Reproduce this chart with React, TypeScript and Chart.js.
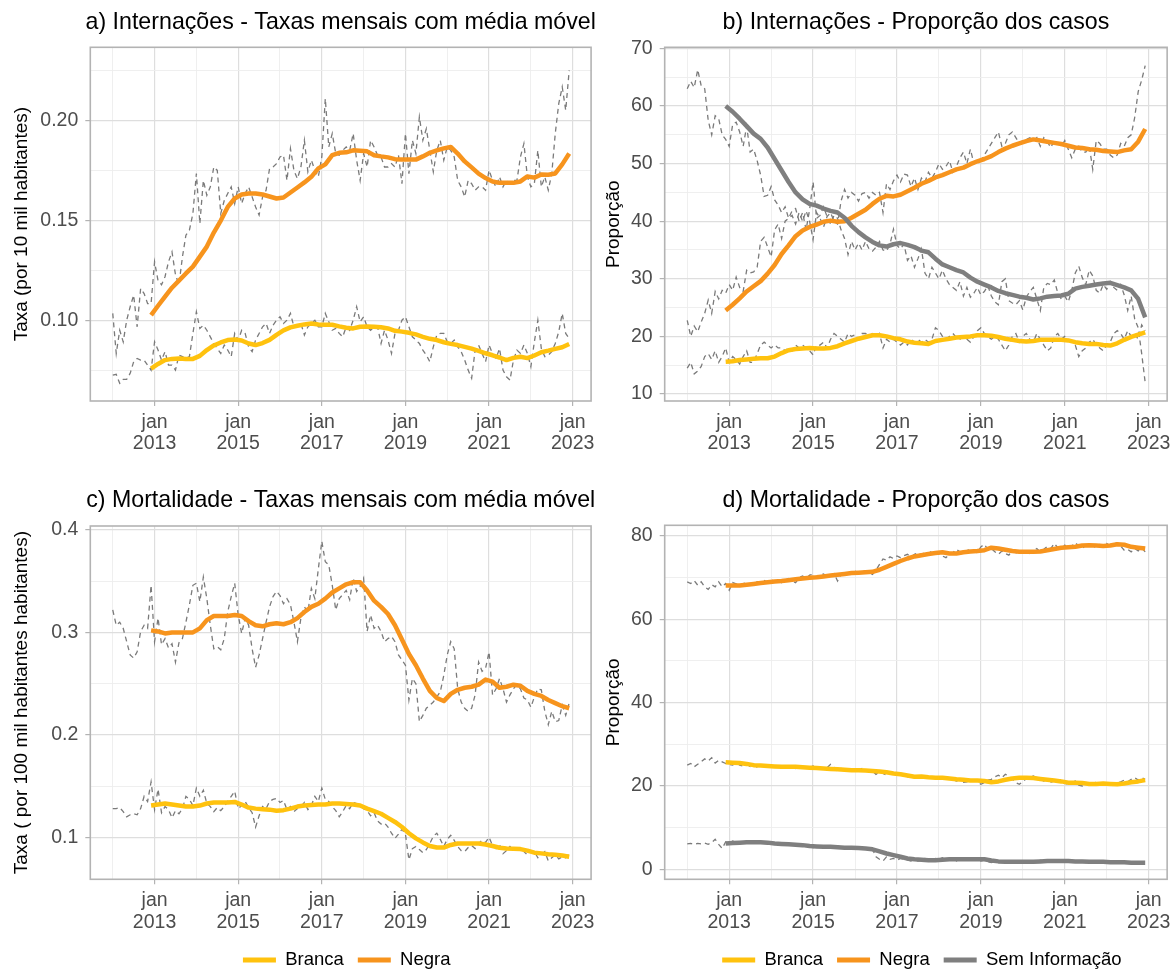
import React, { useEffect, useRef } from "react";
import { Chart, registerables } from "chart.js";

Chart.register(...registerables);

const FONT_FAMILY = "'Liberation Sans', Arial, Helvetica, sans-serif";
Chart.defaults.font.family = FONT_FAMILY;

// ---------------- categories ----------------
const rawYears = [2012, 2013, 2014, 2015, 2016, 2017, 2018, 2019, 2020, 2021, 2022];
const monthNumbers = [1, 2, 3, 4, 5, 6, 7, 8, 9, 10, 11, 12];
const maMonthNumbers = [2, 4, 6, 8, 10, 12];
const pad2 = (m: number) => String(m).padStart(2, "0");
// monthly values: Jan 2012 .. Dec 2022
const rawMonths = rawYears.flatMap((y) => monthNumbers.map((m) => `${y}-${pad2(m)}`));
// 12-month moving average, read every second month: Dec 2012, Feb 2013 .. Dec 2022
const maMonths = ["2012-12", ...rawYears.slice(1).flatMap((y) => maMonthNumbers.map((m) => `${y}-${pad2(m)}`))];

// ---------------- x tick labels ----------------
const yearBreaks = [2013, 2015, 2017, 2019, 2021, 2023];
const yearMinorBreaks = [2012, 2014, 2016, 2018, 2020, 2022];
const tickMonthLabel = "jan";

// ---------------- a) Internações - taxas ----------------
const intBrancaRaw = [
  0.0729, 0.0733, 0.0688, 0.0708, 0.0708, 0.0738, 0.0796, 0.0812, 0.0804, 0.0804, 0.0779, 0.0754,
  0.0895, 0.0854, 0.0804, 0.0846, 0.0779, 0.0779, 0.0754, 0.0829, 0.0821, 0.0812, 0.0821, 0.0937,
  0.1045, 0.0962, 0.0978, 0.0953, 0.0920, 0.0887, 0.0862, 0.0837, 0.0879, 0.0854, 0.0821, 0.0937,
  0.0904, 0.0953, 0.0937, 0.0870, 0.0846, 0.0904, 0.0937, 0.0970, 0.0987, 0.0937, 0.0978, 0.1003,
  0.1020, 0.0987, 0.1003, 0.1037, 0.0970, 0.0970, 0.0987, 0.0929, 0.0970, 0.0987, 0.1003, 0.0970,
  0.0970, 0.1037, 0.0995, 0.0953, 0.0962, 0.0937, 0.0920, 0.0970, 0.0953, 0.1003, 0.1070, 0.0995,
  0.1020, 0.0970, 0.0953, 0.0970, 0.0970, 0.0887, 0.0953, 0.0904, 0.0837, 0.0937, 0.0953, 0.1003,
  0.1020, 0.0970, 0.0920, 0.0904, 0.0887, 0.0854, 0.0829, 0.0796, 0.0870, 0.0929, 0.0937, 0.0937,
  0.0895, 0.0887, 0.0904, 0.0870, 0.0846, 0.0804, 0.0754, 0.0713, 0.0854, 0.0879, 0.0837, 0.0796,
  0.0879, 0.0837, 0.0812, 0.0862, 0.0754, 0.0721, 0.0704, 0.0804, 0.0854, 0.0837, 0.0879, 0.0837,
  0.0771, 0.0895, 0.1003, 0.0862, 0.0821, 0.0829, 0.0846, 0.0887, 0.0945, 0.1037, 0.0937, 0.0912,
];
const intNegraRaw = [
  0.1037, 0.0837, 0.0953, 0.0895, 0.1003, 0.1070, 0.1128, 0.0970, 0.1161, 0.1136, 0.1086, 0.1086,
  0.1294, 0.1200, 0.1180, 0.1220, 0.1294, 0.1344, 0.1230, 0.1180, 0.1319, 0.1427, 0.1452, 0.1535,
  0.1734, 0.1485, 0.1700, 0.1626, 0.1668, 0.1767, 0.1750, 0.1535, 0.1600, 0.1635, 0.1668, 0.1585,
  0.1668, 0.1585, 0.1635, 0.1668, 0.1618, 0.1568, 0.1527, 0.1618, 0.1651, 0.1759, 0.1767, 0.1784,
  0.1817, 0.1826, 0.1700, 0.1859, 0.1750, 0.1709, 0.1767, 0.1900, 0.1743, 0.1801, 0.1751, 0.1718,
  0.1817, 0.2108, 0.1867, 0.1934, 0.1834, 0.1826, 0.1850, 0.1867, 0.1850, 0.1934, 0.1801, 0.1700,
  0.1834, 0.1767, 0.1900, 0.1867, 0.1826, 0.1817, 0.1767, 0.1767, 0.1784, 0.1767, 0.1826, 0.1684,
  0.1934, 0.1734, 0.1900, 0.1834, 0.2017, 0.1900, 0.1958, 0.1850, 0.1743, 0.1850, 0.1900, 0.1801,
  0.1867, 0.1850, 0.1817, 0.1700, 0.1668, 0.1618, 0.1700, 0.1684, 0.1651, 0.1668, 0.1668, 0.1651,
  0.1751, 0.1700, 0.1668, 0.1718, 0.1668, 0.1700, 0.1684, 0.1700, 0.1700, 0.1817, 0.1884, 0.1718,
  0.1668, 0.1684, 0.1850, 0.1668, 0.1718, 0.1651, 0.1734, 0.1934, 0.2083, 0.2166, 0.2050, 0.2249,
];
const intBrancaMA = [
  0.0762,
  0.0785, 0.0804, 0.0810, 0.0812, 0.0809, 0.0810,
  0.0825, 0.0854, 0.0877, 0.0892, 0.0904, 0.0907,
  0.0902, 0.0887, 0.0879, 0.0889, 0.0905, 0.0930,
  0.0952, 0.0967, 0.0975, 0.0982, 0.0987, 0.0982,
  0.0980, 0.0980, 0.0972, 0.0965, 0.0962, 0.0970,
  0.0972, 0.0970, 0.0968, 0.0962, 0.0950, 0.0946,
  0.0940, 0.0932, 0.0920, 0.0910, 0.0904, 0.0893,
  0.0885, 0.0879, 0.0870, 0.0861, 0.0850, 0.0838,
  0.0828, 0.0817, 0.0804, 0.0815, 0.0821, 0.0814,
  0.0827, 0.0843, 0.0851, 0.0860, 0.0868, 0.0884,
];
const intNegraMA = [
  0.1028,
  0.1075, 0.1120, 0.1165, 0.1200, 0.1236, 0.1270,
  0.1320, 0.1370, 0.1440, 0.1500, 0.1568, 0.1610,
  0.1630, 0.1635, 0.1635, 0.1630, 0.1620, 0.1610,
  0.1615, 0.1640, 0.1665, 0.1690, 0.1718, 0.1760,
  0.1780, 0.1826, 0.1838, 0.1840, 0.1850, 0.1848,
  0.1845, 0.1826, 0.1820, 0.1815, 0.1806, 0.1804,
  0.1804, 0.1804, 0.1820, 0.1838, 0.1850, 0.1860,
  0.1867, 0.1834, 0.1795, 0.1765, 0.1734, 0.1712,
  0.1695, 0.1688, 0.1688, 0.1688, 0.1695, 0.1720,
  0.1714, 0.1730, 0.1728, 0.1735, 0.1780, 0.1834,
];

// ---------------- b) Internações - proporção ----------------
const propIntBrancaRaw = [
  14.5, 15.5, 13.5, 14.0, 14.8, 16.5, 17.0, 16.0, 17.5, 15.5, 16.5, 18.0,
  15.5, 16.5, 16.0, 15.2, 16.5, 17.5, 15.5, 15.5, 17.0, 18.5, 19.0, 18.5,
  18.0, 18.5, 18.0, 18.0, 17.5, 18.0, 17.5, 18.5, 18.0, 18.5, 18.0, 17.5,
  16.8, 18.5, 18.5, 19.0, 18.0, 19.5, 20.5, 20.0, 19.5, 19.0, 20.5, 20.0,
  20.3, 19.5, 20.5, 20.5, 20.0, 20.5, 20.0, 20.5, 18.0, 19.5, 19.0, 19.5,
  19.0, 18.5, 19.0, 18.5, 19.5, 19.0, 19.5, 19.0, 19.5, 19.0, 19.5, 21.5,
  21.0, 20.0, 19.5, 20.0, 20.5, 19.8, 19.5, 20.0, 19.5, 19.0, 20.0, 21.0,
  21.5, 20.5, 20.0, 19.5, 20.0, 19.5, 18.5, 17.5, 18.5, 20.0, 20.5, 19.0,
  20.0, 20.5, 19.5, 19.0, 20.5, 19.5, 18.5, 17.5, 18.0, 20.0, 20.5, 19.5,
  20.0, 19.5, 19.0, 18.5, 16.5, 17.5, 18.0, 19.0, 19.5, 18.5, 18.0, 17.5,
  18.5, 19.0, 20.5, 21.0, 20.5, 19.5, 21.0, 20.0, 20.5, 19.5, 22.0, 21.0,
];
const propIntNegraRaw = [
  22.8, 20.0, 21.8, 20.8, 22.5, 24.0, 26.3, 24.0, 27.8, 26.5, 28.0, 27.5,
  29.0, 28.0, 30.3, 28.5, 27.8, 31.5, 31.0, 31.2, 32.0, 36.5, 37.2, 35.5,
  33.8, 38.5, 39.5, 37.0, 40.0, 40.5, 41.0, 39.5, 41.5, 40.0, 41.8, 40.0,
  36.8, 41.5, 40.5, 39.0, 40.8, 41.5, 40.0, 39.5, 43.5, 45.5, 44.0, 45.0,
  44.5, 43.5, 44.8, 45.0, 44.0, 45.0, 44.5, 45.0, 41.5, 46.5, 45.5, 47.0,
  48.0, 46.8, 48.2, 48.0, 46.0, 47.5, 45.5, 47.5, 46.8, 48.5, 47.5, 48.5,
  50.0, 49.0, 49.5, 50.5, 48.5, 49.5, 51.0, 52.0, 50.0, 52.5, 50.0, 50.5,
  50.5, 51.5, 52.5, 53.5, 54.5, 55.5, 53.0, 53.5, 55.0, 55.5, 54.5, 53.5,
  54.0, 54.2, 54.5, 54.0, 54.5, 53.0, 54.5, 53.8, 52.8, 54.0, 53.5, 53.0,
  54.0, 52.5, 51.0, 52.5, 53.0, 52.0, 52.0, 53.0, 49.0, 54.0, 53.5, 52.5,
  52.5, 51.5, 51.0, 51.5, 53.5, 53.0, 54.5, 55.0, 58.0, 62.5, 64.5, 67.0,
];
const propIntSemRaw = [
  63.0, 64.3, 63.2, 66.3, 63.5, 63.0, 57.5, 55.0, 58.3, 57.8, 55.0, 54.2,
  53.0, 56.8, 57.2, 55.5, 53.0, 56.5, 52.0, 52.5, 50.5, 48.0, 44.3, 44.5,
  46.0, 43.7, 42.8, 41.5, 42.5, 40.5, 41.8, 42.2, 40.0, 41.5, 38.5, 42.0,
  46.8, 40.5, 41.0, 42.5, 40.8, 39.5, 41.0, 40.5, 38.5, 37.0, 34.2, 36.5,
  35.0, 36.2, 35.0, 36.5, 35.2, 34.8, 35.5, 36.5, 35.0, 34.8, 36.0, 38.6,
  35.8, 35.2, 36.0, 33.2, 34.0, 32.0, 33.5, 35.2, 31.0, 30.0, 32.0, 31.0,
  30.0, 31.5, 30.0, 29.0, 28.5, 28.0, 29.5, 27.0, 28.5, 26.8, 27.5, 28.5,
  27.2, 27.8, 28.8, 27.0, 26.0, 25.5, 29.5, 30.0, 26.2, 25.8, 25.5, 26.2,
  24.6, 26.8, 27.8, 28.5, 26.5, 24.5, 28.5, 29.2, 29.0, 29.8, 27.5, 26.5,
  27.0, 26.0, 28.0, 31.0, 32.2, 30.2, 29.0, 31.5, 30.5, 28.0, 27.5, 29.0,
  28.2, 29.5, 28.5, 28.0, 29.0, 27.2, 24.5, 27.0, 23.0, 21.5, 17.0, 12.0,
];
const propIntBrancaMA = [
  15.6,
  15.7, 15.9, 16.0, 16.1, 16.2, 16.2,
  16.5, 17.1, 17.6, 17.8, 17.9, 18.0,
  17.9, 17.9, 18.0, 18.3, 18.8, 19.2,
  19.6, 19.9, 20.2, 20.2, 20.0, 19.7,
  19.5, 19.1, 18.9, 18.8, 18.7, 19.2,
  19.4, 19.6, 19.8, 19.9, 20.0, 20.2,
  20.2, 20.1, 19.9, 19.6, 19.4, 19.2,
  19.1, 19.2, 19.4, 19.4, 19.4, 19.4,
  19.3, 19.0, 18.8, 18.7, 18.7, 18.5,
  18.4, 18.8, 19.4, 19.9, 20.3, 20.7,
];
const propIntNegraMA = [
  24.5,
  25.5, 26.6, 27.8, 28.7, 29.6, 30.9,
  32.4, 34.3, 35.8, 37.4, 38.4, 39.0,
  39.4, 39.9, 40.1, 39.9, 40.0, 40.6,
  41.3, 42.0, 43.0, 43.9, 44.4, 44.3,
  44.6, 45.2, 45.8, 46.5, 47.0, 47.6,
  48.0, 48.5, 49.0, 49.3, 49.9, 50.4,
  50.8, 51.3, 52.0, 52.6, 53.1, 53.5,
  53.9, 54.2, 54.0, 53.8, 53.6, 53.4,
  53.1, 52.8, 52.7, 52.5, 52.4, 52.2,
  52.1, 52.0, 52.3, 52.5, 53.8, 56.0,
];
const propIntSemMA = [
  60.0,
  59.0, 57.8, 56.5, 55.2, 54.3, 52.8,
  50.8, 48.8, 46.8, 45.0, 43.8, 43.0,
  42.7, 42.2, 41.8, 41.5, 40.6, 39.2,
  38.1, 37.2, 36.4, 35.8, 35.6, 36.0,
  36.2, 35.9, 35.5, 34.9, 34.6, 33.5,
  32.5, 32.0, 31.5, 31.1, 30.2, 29.5,
  29.0, 28.5, 27.9, 27.5, 27.2, 26.9,
  26.7, 26.4, 26.6, 26.9, 27.0, 27.1,
  27.4, 28.3, 28.6, 28.8, 29.0, 29.2,
  29.3, 28.9, 28.5, 28.0, 26.5, 23.3,
];

// ---------------- c) Mortalidade - taxas ----------------
const mortBrancaRaw = [
  0.128, 0.128, 0.129, 0.125, 0.120, 0.122, 0.123, 0.122, 0.128, 0.140, 0.135, 0.154,
  0.127, 0.147, 0.124, 0.130, 0.127, 0.119, 0.126, 0.123, 0.128, 0.140, 0.137, 0.131,
  0.148, 0.140, 0.146, 0.133, 0.130, 0.125, 0.129, 0.126, 0.130, 0.135, 0.140, 0.145,
  0.128, 0.131, 0.135, 0.129, 0.124, 0.110, 0.121, 0.130, 0.128, 0.135, 0.137, 0.138,
  0.134, 0.136, 0.127, 0.130, 0.125, 0.128, 0.130, 0.134, 0.127, 0.131, 0.140, 0.135,
  0.148, 0.137, 0.135, 0.130, 0.126, 0.120, 0.125, 0.131, 0.128, 0.134, 0.133, 0.131,
  0.128, 0.126, 0.121, 0.124, 0.116, 0.113, 0.114, 0.110, 0.104, 0.099, 0.103, 0.108,
  0.103, 0.078, 0.089, 0.091, 0.088, 0.085, 0.088, 0.094, 0.101, 0.104, 0.098, 0.091,
  0.098, 0.102, 0.097, 0.091, 0.087, 0.086, 0.090, 0.092, 0.089, 0.094, 0.097, 0.095,
  0.100, 0.092, 0.089, 0.093, 0.084, 0.087, 0.091, 0.087, 0.089, 0.090, 0.086, 0.083,
  0.087, 0.086, 0.080, 0.083, 0.086, 0.077, 0.080, 0.083, 0.079, 0.081, 0.080, 0.084,
];
const mortNegraRaw = [
  0.322, 0.307, 0.310, 0.304, 0.291, 0.278, 0.275, 0.281, 0.301, 0.307, 0.304, 0.346,
  0.291, 0.314, 0.288, 0.294, 0.285, 0.289, 0.271, 0.290, 0.294, 0.310, 0.327, 0.346,
  0.348, 0.330, 0.354, 0.333, 0.307, 0.284, 0.286, 0.283, 0.294, 0.320, 0.335, 0.348,
  0.317, 0.299, 0.314, 0.307, 0.284, 0.266, 0.278, 0.294, 0.310, 0.325, 0.335, 0.340,
  0.336, 0.328, 0.333, 0.327, 0.310, 0.291, 0.314, 0.325, 0.320, 0.343, 0.333, 0.362,
  0.389, 0.369, 0.366, 0.346, 0.322, 0.333, 0.337, 0.341, 0.332, 0.353, 0.340, 0.345,
  0.353, 0.301, 0.317, 0.304, 0.307, 0.301, 0.291, 0.294, 0.296, 0.291, 0.278, 0.273,
  0.268, 0.234, 0.255, 0.250, 0.213, 0.219, 0.226, 0.229, 0.232, 0.237, 0.242, 0.258,
  0.278, 0.291, 0.284, 0.245, 0.232, 0.226, 0.223, 0.226, 0.239, 0.271, 0.262, 0.265,
  0.281, 0.239, 0.245, 0.255, 0.245, 0.232, 0.239, 0.245, 0.249, 0.245, 0.236, 0.234,
  0.227, 0.237, 0.245, 0.244, 0.223, 0.210, 0.223, 0.213, 0.214, 0.229, 0.219, 0.231,
];
const mortBrancaMA = [
  0.131,
  0.132, 0.133, 0.132, 0.131, 0.130, 0.130,
  0.131, 0.133, 0.134, 0.134, 0.134, 0.1345,
  0.132, 0.129, 0.128, 0.1275, 0.127, 0.126,
  0.1265, 0.128, 0.130, 0.131, 0.1315, 0.132,
  0.132, 0.133, 0.133, 0.1325, 0.132, 0.131,
  0.128, 0.1255, 0.123, 0.119, 0.115, 0.110,
  0.104, 0.099, 0.095, 0.0915, 0.090, 0.090,
  0.0925, 0.094, 0.094, 0.094, 0.094, 0.093,
  0.0915, 0.0898, 0.089, 0.0888, 0.0885, 0.087,
  0.085, 0.0843, 0.0835, 0.083, 0.0822, 0.081,
];
const mortNegraMA = [
  0.302,
  0.301, 0.299, 0.300, 0.300, 0.300, 0.300,
  0.304, 0.312, 0.316, 0.316, 0.316, 0.317,
  0.316, 0.311, 0.307, 0.306, 0.308, 0.309,
  0.308, 0.310, 0.314, 0.320, 0.325, 0.328,
  0.333, 0.339, 0.343, 0.347, 0.349, 0.349,
  0.341, 0.331, 0.325, 0.318, 0.307, 0.293,
  0.279, 0.268, 0.255, 0.243, 0.236, 0.233,
  0.240, 0.244, 0.246, 0.247, 0.249, 0.254,
  0.252, 0.246, 0.247, 0.249, 0.248, 0.243,
  0.240, 0.238, 0.234, 0.231, 0.228, 0.226,
];

// ---------------- d) Mortalidade - proporção ----------------
const propMortBrancaRaw = [
  25.0, 25.4, 24.6, 25.2, 25.8, 26.5, 26.0, 26.8, 25.5, 26.2, 25.8, 25.4,
  25.2, 25.0, 25.6, 25.0, 24.8, 25.2, 24.7, 25.3, 24.5, 24.8, 25.0, 24.6,
  24.8, 24.4, 24.7, 24.9, 24.5, 24.3, 24.8, 24.2, 24.6, 24.7, 24.3, 24.5,
  24.8, 24.2, 24.3, 24.0, 24.4, 25.2, 24.5, 23.6, 24.2, 24.0, 23.8, 23.5,
  24.0, 23.8, 24.2, 23.8, 23.4, 23.6, 22.8, 23.4, 23.0, 22.6, 23.2, 23.0,
  22.6, 23.0, 22.8, 22.2, 22.4, 22.2, 22.0, 22.3, 21.9, 22.0, 22.2, 21.8,
  22.0, 21.6, 22.2, 21.9, 21.4, 21.2, 21.5, 20.9, 21.0, 21.5, 21.3, 21.0,
  20.4, 20.8, 21.4, 21.6, 22.2, 22.6, 22.0, 22.8, 22.4, 21.6, 20.8, 20.4,
  21.0, 21.8, 22.0, 22.4, 22.0, 21.6, 21.2, 21.6, 21.0, 20.8, 21.2, 21.6,
  20.6, 20.4, 20.8, 21.2, 20.2, 20.0, 20.4, 20.6, 21.0, 20.8, 20.2, 20.6,
  20.4, 20.0, 20.6, 20.8, 21.0, 21.4, 21.0, 21.6, 22.0, 21.4, 22.0, 21.6,
];
const propMortNegraRaw = [
  69.0, 68.6, 69.3, 68.2, 69.0, 67.8, 67.2, 68.3, 67.8, 69.0, 67.8, 68.6,
  67.0, 68.8, 68.5, 68.0, 68.6, 68.8, 68.4, 68.2, 69.0, 68.7, 69.3, 68.9,
  69.5, 69.0, 69.6, 68.8, 69.4, 69.8, 69.2, 68.8, 70.0, 70.4, 69.8, 70.6,
  70.8, 70.0, 70.5, 70.9, 70.2, 70.6, 71.0, 69.2, 70.8, 71.2, 70.8, 71.4,
  71.6, 71.0, 71.4, 71.6, 71.2, 70.8, 71.8, 73.2, 74.5, 74.2, 75.0, 74.6,
  75.2, 74.8, 75.3, 75.6, 75.0, 75.6, 76.0, 75.5, 76.2, 75.8, 76.4, 76.0,
  75.6, 75.2, 74.8, 75.6, 76.0, 76.8, 76.2, 75.8, 76.5, 76.8, 76.2, 76.0,
  77.4, 78.0, 76.8, 77.0, 76.2, 75.6, 76.4, 75.8, 75.4, 76.5, 76.0, 75.8,
  76.2, 76.5, 75.8, 76.4, 77.0, 76.2, 76.8, 77.5, 77.0, 78.2, 77.2, 76.8,
  77.8, 77.2, 77.6, 78.4, 77.6, 77.0, 77.8, 78.0, 77.6, 77.2, 78.0, 77.8,
  78.2, 77.6, 78.0, 78.4, 77.6, 76.6, 76.8, 76.2, 77.0, 76.4, 77.2, 76.2,
];
const propMortSemRaw = [
  6.1, 6.2, 6.0, 6.2, 6.1, 6.3, 6.0, 6.4, 7.2, 6.0, 5.0, 6.6,
  6.2, 6.8, 6.4, 6.6, 6.2, 6.8, 6.5, 6.3, 6.8, 6.6, 6.4, 6.7,
  6.2, 6.0, 6.4, 6.2, 5.8, 6.2, 6.0, 5.6, 6.0, 5.8, 5.7, 5.9,
  5.2, 5.8, 5.6, 5.4, 5.6, 5.2, 5.0, 5.6, 5.4, 5.2, 5.4, 5.3,
  5.0, 5.2, 5.1, 4.9, 5.2, 4.8, 3.0, 2.4, 2.0, 3.0, 2.4, 2.6,
  2.2, 2.6, 2.4, 2.2, 2.0, 2.4, 2.0, 2.2, 2.6, 2.4, 2.0, 2.6,
  2.4, 2.8, 2.2, 2.6, 2.4, 2.0, 2.6, 2.3, 2.2, 2.8, 2.4, 2.6,
  2.0, 2.2, 1.8, 1.6, 1.9, 1.7, 2.0, 1.8, 1.6, 2.0, 1.8, 1.7,
  1.8, 1.6, 2.0, 1.9, 1.7, 2.2, 2.0, 2.1, 1.9, 2.1, 2.0, 1.8,
  2.0, 1.8, 1.9, 1.7, 1.9, 1.8, 1.6, 1.8, 1.9, 1.7, 1.8, 1.6,
  1.8, 1.6, 1.7, 1.5, 1.6, 1.7, 1.5, 1.6, 1.5, 1.7, 1.6, 1.5,
];
const propMortBrancaMA = [
  25.7,
  25.6, 25.5, 25.3, 25.0, 24.9, 24.8,
  24.7, 24.6, 24.6, 24.6, 24.5, 24.4,
  24.3, 24.2, 24.1, 24.0, 23.9, 23.8,
  23.8, 23.7, 23.6, 23.5, 23.3, 23.0,
  22.8, 22.5, 22.2, 22.3, 22.1, 22.0,
  22.0, 21.8, 21.6, 21.5, 21.3, 21.3,
  21.2, 20.9, 21.1, 21.5, 21.8, 22.0,
  22.0, 21.9, 21.7, 21.5, 21.3, 21.1,
  20.8, 20.8, 20.7, 20.5, 20.5, 20.6,
  20.5, 20.4, 20.6, 20.9, 21.1, 21.4,
];
const propMortNegraMA = [
  68.1,
  68.1, 68.1, 68.3, 68.5, 68.7, 68.9,
  69.1, 69.2, 69.4, 69.6, 69.8, 70.0,
  70.1, 70.3, 70.5, 70.7, 70.9, 71.1,
  71.2, 71.3, 71.4, 71.9, 72.6, 73.3,
  74.0, 74.6, 75.1, 75.4, 75.7, 75.9,
  76.1, 75.8, 75.8, 76.1, 76.3, 76.4,
  76.6, 77.2, 77.0, 76.7, 76.4, 76.2,
  76.2, 76.2, 76.3, 76.6, 76.9, 77.2,
  77.3, 77.4, 77.7, 77.8, 77.7, 77.6,
  77.7, 78.0, 77.9, 77.4, 77.2, 77.0,
];
const propMortSemMA = [
  6.2,
  6.3, 6.4, 6.5, 6.5, 6.5, 6.4,
  6.2, 6.1, 6.0, 5.9, 5.8, 5.6,
  5.5, 5.4, 5.4, 5.3, 5.2, 5.2,
  5.1, 5.0, 4.8, 4.3, 3.8, 3.4,
  3.0, 2.6, 2.4, 2.3, 2.2, 2.2,
  2.3, 2.4, 2.4, 2.4, 2.4, 2.4,
  2.4, 2.1, 1.9, 1.8, 1.8, 1.8,
  1.8, 1.8, 1.9, 2.0, 2.0, 2.0,
  2.0, 1.9, 1.9, 1.8, 1.8, 1.8,
  1.7, 1.7, 1.7, 1.6, 1.6, 1.6,
];

// ---------------- styles ----------------
const COLOR_BRANCA = "#FFC20E";
const COLOR_NEGRA = "#F7941D";
const COLOR_SEM = "#7F7F7F";
const COLOR_RAW = "#7A7A7A";
const GRID_MAJOR = "#DEDEDE";
const GRID_MINOR = "#EDEDED";
const BORDER = "#B3B3B3";
const TICK_TEXT = "#4D4D4D";

const monthToYear = (s: string) => {
  const [y, m] = s.split("-").map(Number);
  return y + (m - 1) / 12;
};

type Series = { label: string; color: string; raw: number[]; ma: number[] };
type PanelSpec = {
  key: string;
  title: string;
  yTitle: string;
  yMin: number;
  yMax: number;
  yMajor: number[];
  yMinor: number[];
  yDigits: number;
  series: Series[];
  legend: boolean;
  legendCenter: number;
  yTitleX: number;
  box: { left: number; top: number; width: number; height: number };
  area: { left: number; right: number; top: number; bottom: number };
};

const panelBorder = {
  id: "panelBorder",
  afterDraw(chart: any) {
    const { ctx, chartArea } = chart;
    const { left, top, right, bottom } = chartArea;
    ctx.save();
    ctx.strokeStyle = BORDER;
    ctx.lineWidth = 1.6;
    ctx.strokeRect(left, top, right - left, bottom - top);
    ctx.restore();
  },
};

const adjustBoxes = {
  id: "adjustBoxes",
  afterLayout(chart: any) {
    const t = chart.titleBlock;
    if (t) {
      t.left -= 40;
      t.right += 40;
      t.width = t.right - t.left;
    }
    const l = chart.legend;
    if (l && l.options && l.options.display) {
      l.left += 6;
      l.right += 6;
    }
  },
};

function makeConfig(p: PanelSpec) {
  const TITLE_SIZE = 23.2;
  const TITLE_LH = 1.2;
  const titleH = TITLE_SIZE * TITLE_LH;
  const titlePadTop = p.area.top - 25 - titleH / 2;
  const titlePadBottom = p.area.top - titleH - titlePadTop;
  const LEG_FONT = 18.5;
  const LEG_PAD = 14;
  const legendH = LEG_FONT + LEG_PAD + 10;
  const xAxisH = p.legend ? p.legendCenter - LEG_PAD - LEG_FONT / 2 - p.area.bottom : p.box.height - p.area.bottom;
  const padBottom = p.legend ? p.box.height - p.area.bottom - xAxisH - legendH : 0;
  const Y_TITLE_SIZE = 19;
  const yTicks = [...p.yMajor, ...p.yMinor].sort((a, b) => a - b);
  const xTicks = [...yearBreaks, ...yearMinorBreaks].sort((a, b) => a - b);
  const n = p.series.length;

  const datasets = [
    ...p.series.map((s, j) => ({
      label: s.label,
      data: maMonths.map((m, k) => ({ x: monthToYear(m), y: s.ma[k] })),
      borderColor: s.color,
      backgroundColor: s.color,
      borderWidth: 4.5,
      pointRadius: 0,
      tension: 0,
      fill: false,
      borderJoinStyle: "round",
      borderCapStyle: "butt",
      order: n - 1 - j,
    })),
    ...p.series.map((s, j) => ({
      label: s.label + " (mensal)",
      data: rawMonths.map((m, k) => ({ x: monthToYear(m), y: s.raw[k] })),
      borderColor: COLOR_RAW,
      backgroundColor: COLOR_RAW,
      borderWidth: 1.3,
      borderDash: [5, 4],
      pointRadius: 0,
      tension: 0,
      fill: false,
      order: 10 + n - 1 - j,
    })),
  ];

  return {
    type: "line",
    data: { datasets },
    plugins: [panelBorder, adjustBoxes],
    options: {
      responsive: false,
      animation: false,
      devicePixelRatio: 1,
      events: [],
      parsing: false,
      normalized: true,
      layout: {
        padding: { left: 0, top: 0, right: p.box.width - p.area.right, bottom: padBottom },
      },
      scales: {
        x: {
          type: "linear",
          min: 2011.463,
          max: 2023.44,
          bounds: "data",
          afterBuildTicks: (scale: any) => {
            scale.ticks = xTicks.map((v) => ({ value: v }));
          },
          afterFit: (scale: any) => {
            scale.height = xAxisH;
          },
          border: { display: false },
          grid: {
            color: (c: any) => (yearBreaks.includes(c.tick && c.tick.value) ? GRID_MAJOR : GRID_MINOR),
            lineWidth: (c: any) => (yearBreaks.includes(c.tick && c.tick.value) ? 1.2 : 0.9),
            tickColor: (c: any) => (yearBreaks.includes(c.tick && c.tick.value) ? BORDER : "rgba(0,0,0,0)"),
            tickWidth: 1.2,
            tickLength: 5,
            drawTicks: true,
          },
          ticks: {
            autoSkip: false,
            maxRotation: 0,
            minRotation: 0,
            padding: 5.3,
            color: TICK_TEXT,
            font: { size: 19.5, lineHeight: 1.113 },
            callback: (v: number) => (yearBreaks.includes(v) ? [tickMonthLabel, String(v)] : ""),
          },
        },
        y: {
          type: "linear",
          min: p.yMin,
          max: p.yMax,
          bounds: "data",
          afterBuildTicks: (scale: any) => {
            scale.ticks = yTicks.map((v) => ({ value: v }));
          },
          afterFit: (scale: any) => {
            scale.width = p.area.left;
          },
          border: { display: false },
          grid: {
            color: (c: any) => (p.yMajor.includes(c.tick && c.tick.value) ? GRID_MAJOR : GRID_MINOR),
            lineWidth: (c: any) => (p.yMajor.includes(c.tick && c.tick.value) ? 1.2 : 0.9),
            tickColor: (c: any) => (p.yMajor.includes(c.tick && c.tick.value) ? BORDER : "rgba(0,0,0,0)"),
            tickWidth: 1.2,
            tickLength: 5,
            drawTicks: true,
          },
          ticks: {
            autoSkip: false,
            padding: 7,
            color: TICK_TEXT,
            font: { size: 19.5 },
            callback: (v: number) => (p.yMajor.includes(v) ? v.toFixed(p.yDigits) : ""),
          },
          title: {
            display: true,
            text: p.yTitle,
            color: "#000000",
            font: { size: Y_TITLE_SIZE, lineHeight: 1.2 },
            padding: { top: p.yTitleX - (Y_TITLE_SIZE * 1.2) / 2, bottom: 0 },
          },
        },
      },
      plugins: {
        tooltip: { enabled: false },
        title: {
          display: true,
          text: p.title,
          fullSize: false,
          align: "center",
          color: "#000000",
          font: { size: TITLE_SIZE, weight: "normal", lineHeight: TITLE_LH },
          padding: { top: titlePadTop, bottom: titlePadBottom },
        },
        legend: {
          display: p.legend,
          position: "bottom",
          fullSize: false,
          align: "center",
          labels: {
            boxWidth: 33,
            boxHeight: 5,
            padding: LEG_PAD,
            color: "#000000",
            font: { size: LEG_FONT },
            generateLabels: () =>
              p.series.map((s, j) => ({
                text: s.label,
                fillStyle: s.color,
                strokeStyle: s.color,
                lineWidth: 0,
                hidden: false,
                datasetIndex: j,
                fontColor: "#000000",
              })),
          },
        },
      },
    },
  };
}

const seriesIntTaxa: Series[] = [
  { label: "Branca", color: COLOR_BRANCA, raw: intBrancaRaw, ma: intBrancaMA },
  { label: "Negra", color: COLOR_NEGRA, raw: intNegraRaw, ma: intNegraMA },
];
const seriesIntProp: Series[] = [
  { label: "Branca", color: COLOR_BRANCA, raw: propIntBrancaRaw, ma: propIntBrancaMA },
  { label: "Negra", color: COLOR_NEGRA, raw: propIntNegraRaw, ma: propIntNegraMA },
  { label: "Sem Informação", color: COLOR_SEM, raw: propIntSemRaw, ma: propIntSemMA },
];
const seriesMortTaxa: Series[] = [
  { label: "Branca", color: COLOR_BRANCA, raw: mortBrancaRaw, ma: mortBrancaMA },
  { label: "Negra", color: COLOR_NEGRA, raw: mortNegraRaw, ma: mortNegraMA },
];
const seriesMortProp: Series[] = [
  { label: "Branca", color: COLOR_BRANCA, raw: propMortBrancaRaw, ma: propMortBrancaMA },
  { label: "Negra", color: COLOR_NEGRA, raw: propMortNegraRaw, ma: propMortNegraMA },
  { label: "Sem Informação", color: COLOR_SEM, raw: propMortSemRaw, ma: propMortSemMA },
];

const panels: PanelSpec[] = [
  {
    key: "a",
    title: "a) Internações - Taxas mensais com média móvel",
    yTitle: "Taxa (por 10 mil habitantes)",
    yMin: 0.06,
    yMax: 0.2364,
    yMajor: [0.1, 0.15, 0.2],
    yMinor: [0.075, 0.125, 0.175, 0.225],
    yDigits: 2,
    series: seriesIntTaxa,
    legend: false,
    legendCenter: 0,
    yTitleX: 22,
    box: { left: 0, top: 0, width: 600, height: 462 },
    area: { left: 90.3, right: 592.5, top: 47.3, bottom: 401 },
  },
  {
    key: "b",
    title: "b) Internações - Proporção dos casos",
    yTitle: "Proporção",
    yMin: 8.785,
    yMax: 70.19,
    yMajor: [10, 20, 30, 40, 50, 60, 70],
    yMinor: [15, 25, 35, 45, 55, 65],
    yDigits: 0,
    series: seriesIntProp,
    legend: false,
    legendCenter: 0,
    yTitleX: 13.5,
    box: { left: 600, top: 0, width: 576, height: 462 },
    area: { left: 64.7, right: 567.3, top: 47.3, bottom: 401 },
  },
  {
    key: "c",
    title: "c) Mortalidade - Taxas mensais com média móvel",
    yTitle: "Taxa ( por 100 mil habitantes habitantes)",
    yMin: 0.059,
    yMax: 0.4039,
    yMajor: [0.1, 0.2, 0.3, 0.4],
    yMinor: [0.15, 0.25, 0.35],
    yDigits: 1,
    series: seriesMortTaxa,
    legend: true,
    legendCenter: 498,
    yTitleX: 22,
    box: { left: 0, top: 462, width: 600, height: 530 },
    area: { left: 90.3, right: 592.5, top: 64, bottom: 417.3 },
  },
  {
    key: "d",
    title: "d) Mortalidade - Proporção dos casos",
    yTitle: "Proporção",
    yMin: -2.4,
    yMax: 82.57,
    yMajor: [0, 20, 40, 60, 80],
    yMinor: [10, 30, 50, 70],
    yDigits: 0,
    series: seriesMortProp,
    legend: true,
    legendCenter: 498,
    yTitleX: 13.5,
    box: { left: 600, top: 462, width: 576, height: 530 },
    area: { left: 64.7, right: 567.3, top: 63.3, bottom: 417.3 },
  },
];

function PanelChart({ spec }: { spec: PanelSpec }) {
  const ref = useRef<HTMLCanvasElement | null>(null);
  useEffect(() => {
    if (!ref.current) return;
    const chart = new Chart(ref.current, makeConfig(spec) as any);
    return () => chart.destroy();
  }, [spec]);
  const { left, top, width, height } = spec.box;
  return (
    <canvas
      ref={ref}
      width={width}
      height={height}
      style={{ position: "absolute", left, top, width, height, display: "block" }}
    />
  );
}

export default function App() {
  return (
    <div
      style={{
        position: "fixed",
        left: 0,
        top: 0,
        width: 1176,
        height: 972,
        overflow: "hidden",
        background: "#ffffff",
      }}
    >
      {panels.map((p) => (
        <PanelChart key={p.key} spec={p} />
      ))}
    </div>
  );
}
